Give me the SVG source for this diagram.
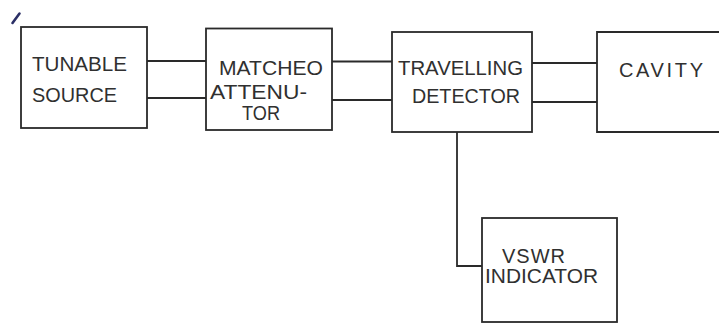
<svg xmlns="http://www.w3.org/2000/svg" width="719" height="323" viewBox="0 0 719 323">
<style>
.box{fill:none;stroke:#2a2a2a;stroke-width:1.8}
.wire{fill:none;stroke:#2a2a2a;stroke-width:1.8}
.t{font-family:"Liberation Sans",Arial,sans-serif;font-size:20px;fill:#303030;text-anchor:start}
</style>
<rect width="719" height="323" fill="#ffffff"/>
<path d="M12.5 23 L19.5 13.5" stroke="#2b2f66" stroke-width="2.6" stroke-linecap="round"/>
<g id="connectors">
<path class="wire" d="M147 61 H206 M147 98 H206"/>
<path class="wire" d="M332 61.5 H392 M332 100 H392"/>
<path class="wire" d="M532 63 H597 M532 102 H597"/>
<path class="wire" d="M457 132 V266 H482"/>
</g>
<g id="tunable-source">
<rect class="box" x="21" y="27" width="126" height="101"/>
<text class="t" x="32" y="71" textLength="95" lengthAdjust="spacingAndGlyphs">TUNABLE</text>
<text class="t" x="32" y="102" textLength="85" lengthAdjust="spacingAndGlyphs">SOURCE</text>
</g>
<g id="matched-attenuator">
<rect class="box" x="206" y="28.5" width="126" height="101.5"/>
<text class="t" x="219" y="75" textLength="104" lengthAdjust="spacingAndGlyphs">MATCHEO</text>
<text class="t" x="210" y="99" textLength="97" lengthAdjust="spacingAndGlyphs">ATTENU-</text>
<text class="t" x="242" y="120" textLength="38" lengthAdjust="spacingAndGlyphs">TOR</text>
</g>
<g id="travelling-detector">
<rect class="box" x="392" y="32" width="140" height="100"/>
<text class="t" x="398" y="75" textLength="125" lengthAdjust="spacingAndGlyphs">TRAVELLING</text>
<text class="t" x="412" y="103" textLength="108" lengthAdjust="spacingAndGlyphs">DETECTOR</text>
</g>
<g id="cavity">
<path class="box" d="M722 32 H597 V132 H722"/>
<text class="t" x="619" y="77" textLength="84" lengthAdjust="spacing">CAVITY</text>
</g>
<g id="vswr-indicator">
<rect class="box" x="482" y="218" width="135" height="104"/>
<text class="t" x="502" y="263" textLength="63" lengthAdjust="spacing">VSWR</text>
<text class="t" x="485" y="283" textLength="113" lengthAdjust="spacingAndGlyphs">INDICATOR</text>
</g>
</svg>
